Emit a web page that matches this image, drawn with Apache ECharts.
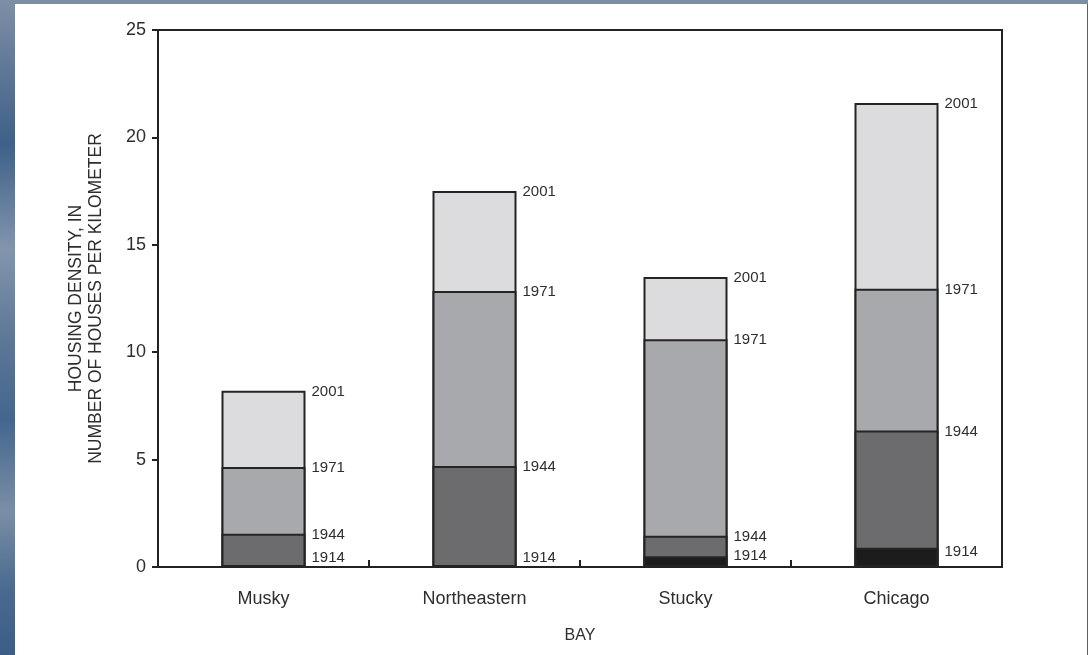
<!DOCTYPE html>
<html>
<head>
<meta charset="utf-8">
<script src="https://cdn.jsdelivr.net/npm/echarts@6/dist/echarts.min.js"></script>
<style>
  html, body { margin: 0; padding: 0; width: 1088px; height: 655px; overflow: hidden; }
  body {
    background: linear-gradient(180deg, #7d8fa5 0%, #5c7596 12%, #3f6088 22%, #8195ad 38%, #5d7797 52%, #44668e 64%, #7a8ea6 78%, #4a6a90 90%, #3c5d86 100%);
  }
  #chart {
    position: absolute; left: 15px; top: 4px;
    width: 1072px; height: 651px;
    background: #ffffff;
    border-right: 1px solid #59626c;
  }
</style>
</head>
<body>
<div id="chart"></div>
<script>
// Housing density by bay, cumulative for each survey year
const categories = ['Musky', 'Northeastern', 'Stucky', 'Chicago'];
const years = ['2001', '1971', '1944', '1914'];
const density2001 = [8.2, 17.5, 13.5, 21.6];
const density1971 = [4.65, 12.85, 10.6, 12.95];
const density1944 = [1.55, 4.7, 1.45, 6.35];
const density1914 = [0, 0, 0.5, 0.9];
const yTicks = [0, 5, 10, 15, 20, 25];

const fills = { '2001': '#dcdcde', '1971': '#a8a9ac', '1944': '#6c6c6e', '1914': '#1c1c1c' };
const font = '"Liberation Sans", Arial, Helvetica, sans-serif';
const textColor = '#2e2e2e';

// 1914 labels sit just above the baseline when the bar is tiny
const label1914Offsets = [[6, -9], [6, -9], [6, 0], [6, 4]];

function yearSeries(year, values) {
  return {
    name: year,
    type: 'bar',
    barWidth: 84,
    barGap: '-100%',
    data: values.map((v, i) => {
      const item = { value: v };
      if (year === '1914') {
        item.label = { offset: label1914Offsets[i] };
        if (v === 0) item.itemStyle = { borderWidth: 0 };
      }
      return item;
    }),
    itemStyle: { color: fills[year], borderColor: '#242424', borderWidth: 2 },
    label: {
      show: true,
      position: ['100%', 0],
      offset: [6, 1],
      align: 'left',
      verticalAlign: 'middle',
      formatter: year,
      fontFamily: font,
      fontSize: 15,
      color: textColor
    },
    emphasis: { disabled: true },
    animation: false
  };
}

const chart = echarts.init(document.getElementById('chart'), null, { renderer: 'canvas' });
chart.setOption({
  backgroundColor: '#ffffff',
  grid: {
    left: 143, right: 85, top: 26, bottom: 88,
    show: true, borderColor: '#222222', borderWidth: 2, backgroundColor: 'transparent'
  },
  xAxis: {
    type: 'category',
    data: categories,
    name: 'BAY',
    nameLocation: 'middle',
    nameGap: 61,
    nameTextStyle: { fontFamily: font, fontSize: 16, color: textColor },
    axisLine: { lineStyle: { color: '#222222', width: 2 } },
    axisTick: { show: true, inside: true, length: 7, alignWithLabel: false, lineStyle: { color: '#222222', width: 2 } },
    axisLabel: { margin: 23, fontFamily: font, fontSize: 18, color: textColor }
  },
  yAxis: {
    type: 'value',
    min: yTicks[0],
    max: yTicks[yTicks.length - 1],
    interval: yTicks[1] - yTicks[0],
    name: 'HOUSING DENSITY, IN\nNUMBER OF HOUSES PER KILOMETER',
    nameLocation: 'middle',
    nameGap: 52,
    nameTextStyle: { fontFamily: font, fontSize: 17.5, color: textColor, lineHeight: 20 },
    axisLine: { show: true, lineStyle: { color: '#222222', width: 2 } },
    axisTick: { show: true, inside: false, length: 6, lineStyle: { color: '#222222', width: 2 } },
    axisLabel: { margin: 12, fontFamily: font, fontSize: 18, color: textColor },
    splitLine: { show: false }
  },
  series: [
    yearSeries('2001', density2001),
    yearSeries('1971', density1971),
    yearSeries('1944', density1944),
    yearSeries('1914', density1914)
  ]
});
</script>
</body>
</html>
